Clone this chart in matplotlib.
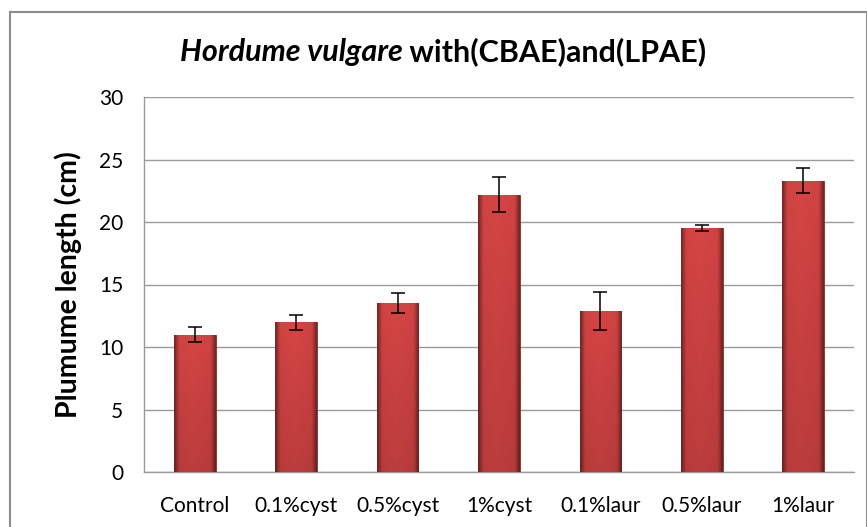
import matplotlib
matplotlib.use("Agg")
import matplotlib.pyplot as plt
import numpy as np
from matplotlib.patches import Rectangle

categories = ["Control", "0.1%cyst", "0.5%cyst", "1%cyst", "0.1%laur", "0.5%laur", "1%laur"]
values = [11.0, 12.0, 13.5, 22.2, 12.9, 19.5, 23.3]
errors = [0.6, 0.6, 0.8, 1.4, 1.5, 0.25, 1.0]
yticks = [0, 5, 10, 15, 20, 25, 30]

plt.rcParams['font.family'] = ['Lato', 'DejaVu Sans']

W, H = 867, 527
fig = plt.figure(figsize=(W/100, H/100), dpi=100)
fig.patches.append(Rectangle((10/W, -0.01), (W-10)/W, (H-12)/H + 0.01, transform=fig.transFigure,
                             fill=False, edgecolor='#8c8c8c', linewidth=1.5))

ax = fig.add_axes([144/W, (H-472)/H, (854-144)/W, (472-97)/H])
x = np.arange(len(categories))
bars = ax.bar(x, values, width=0.41, color='#C83B3B', edgecolor='#8a2a2a', linewidth=0.6, zorder=3)

# horizontal + vertical shading clipped to bars
nx, ny = 64, 64
gx = np.linspace(0, 1, nx)
gy = np.linspace(0, 1, ny)  # 0 = bottom, 1 = top
edge = np.clip(1 - 0.45 * np.maximum(0, (np.abs(gx - 0.5) - 0.38) / 0.12), 0, 1)
mid = 1 - 0.08 * np.abs(gx - 0.45)
base = np.array([0.84, 0.27, 0.27])
for b in bars:
    bx, by, bw, bh = b.get_x(), b.get_y(), b.get_width(), b.get_height()
    vert = 0.88 + 0.12 * gy
    img = np.zeros((ny, nx, 3))
    for j in range(ny):
        img[ny - 1 - j] = base[None, :] * (edge * mid * vert[j])[:, None]
    im = ax.imshow(img, extent=[bx, bx + bw, by, by + bh], aspect='auto',
                   zorder=3.1, interpolation='bicubic')
    im.set_clip_path(b)

ax.errorbar(x, values, yerr=errors, fmt='none', ecolor='black', elinewidth=1.1,
            capsize=5, capthick=1.1, zorder=5)

ax.set_xlim(-0.5, len(categories) - 0.5)
ax.set_ylim(0, 30)
ax.set_yticks(yticks)
ax.set_xticks(x)
ax.set_xticklabels(categories, fontsize=15)
ax.tick_params(axis='y', labelsize=15, length=0, pad=15)
ax.tick_params(axis='x', length=0, pad=17)
ax.grid(axis='y', color='#9a9a9a', linewidth=1.0, zorder=0)
ax.set_axisbelow(True)
for s in ['top', 'right']:
    ax.spines[s].set_visible(False)
for s in ['left', 'bottom']:
    ax.spines[s].set_color('#9a9a9a')
    ax.spines[s].set_linewidth(1.0)
ax.set_ylabel('Plumume length (cm)', fontsize=20.5, fontweight='bold', labelpad=12)

# title with italic part
t1 = fig.text(0, 0, 'Hordume vulgare', fontsize=22, fontweight='bold', style='italic')
t2 = fig.text(0, 0, ' with(CBAE)and(LPAE)', fontsize=22, fontweight='bold')
fig.canvas.draw()
r = fig.canvas.get_renderer()
w1 = t1.get_window_extent(r).width
w2 = t2.get_window_extent(r).width
start = 443 - (w1 + w2) / 2
ty = (H - 61) / H
t1.set_position((start / W, ty))
t2.set_position(((start + w1) / W, ty))

fig.savefig('out.png', dpi=100)
